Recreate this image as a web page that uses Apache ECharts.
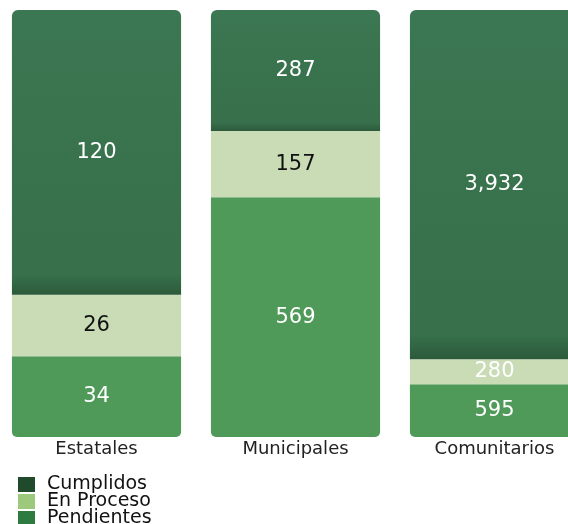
<!DOCTYPE html>
<html><head><meta charset="utf-8">
<script src="https://cdn.jsdelivr.net/npm/echarts@6/dist/echarts.min.js"></script>
<style>html,body{margin:0;padding:0;background:#fff;overflow:hidden;width:568px;height:524px}#c{position:absolute;left:-3px;top:0;width:600px;height:560px}</style>
</head><body><div id="c"></div>
<script>
var categories = ['Estatales', 'Municipales', 'Comunitarios'];
var cumplidos = [120, 287, 3932];
var enProceso = [26, 157, 280];
var pendientes = [34, 569, 595];
var seriesNames = ['Cumplidos', 'En Proceso', 'Pendientes'];

var totals = categories.map(function (c, i) { return cumplidos[i] + enProceso[i] + pendientes[i]; });
function pct(arr) { return arr.map(function (v, i) { return { value: v / totals[i] * 100, raw: v }; }); }
function fmt(p) { return p.data.raw.toLocaleString('en-US'); }

var FONT = 'DejaVu Sans';
var chart = echarts.init(document.getElementById('c'));
var labelBase = { show: true, position: 'inside', fontFamily: FONT, fontSize: 21, formatter: fmt };
chart.setOption({
  animation: false,
  grid: { left: 0, right: 3, top: 10, bottom: 123 },
  xAxis: {
    type: 'category', data: categories,
    axisLine: { show: false }, axisTick: { show: false },
    axisLabel: { color: '#222', fontFamily: FONT, fontSize: 18, margin: 3 }
  },
  yAxis: { type: 'value', min: 0, max: 100, show: false, splitLine: { show: false } },
  legend: {
    orient: 'vertical', left: 21, top: 475, padding: 0, itemGap: -2, itemWidth: 17, itemHeight: 15,
    icon: 'rect',
    textStyle: { fontFamily: FONT, fontSize: 19, color: '#111', padding: [0, 0, 0, 7], lineHeight: 15 },
    data: [
      { name: 'Cumplidos', itemStyle: { color: '#1f4a2c' } },
      { name: 'En Proceso', itemStyle: { color: '#9cc97c' } },
      { name: 'Pendientes', itemStyle: { color: '#2f7a40' } }
    ]
  },
  series: [
    {
      name: 'Pendientes', type: 'bar', stack: 's', barWidth: '85%', data: pct(pendientes),
      itemStyle: { color: '#4f9a59', borderRadius: [0, 0, 5, 5] },
      label: Object.assign({}, labelBase, { color: '#fff' })
    },
    {
      name: 'En Proceso', type: 'bar', stack: 's', data: pct(enProceso),
      itemStyle: { color: '#c9dcb6' },
      label: Object.assign({}, labelBase, {
        color: '#111',
        formatter: function (p) { return p.dataIndex === 2 ? '{w|' + fmt(p) + '}' : fmt(p); },
        rich: { w: { color: '#fff', fontFamily: FONT, fontSize: 21 } }
      })
    },
    {
      name: 'Cumplidos', type: 'bar', stack: 's', data: pct(cumplidos),
      itemStyle: {
        color: new echarts.graphic.LinearGradient(0, 0, 0, 1, [
          { offset: 0, color: '#3b7752' }, { offset: 0.93, color: '#37704b' }, { offset: 1, color: '#2c5a3b' }
        ]),
        borderRadius: [6, 6, 0, 0]
      },
      label: Object.assign({}, labelBase, { color: '#fff' })
    }
  ]
});
</script></body></html>
